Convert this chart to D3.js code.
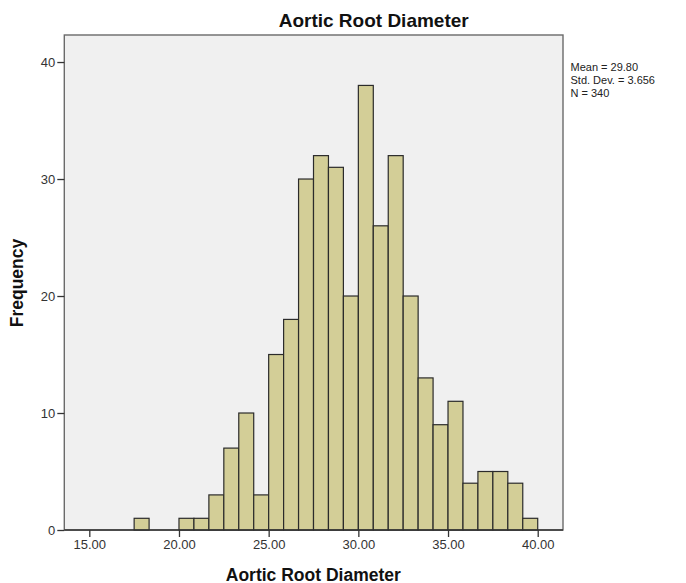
<!DOCTYPE html>
<html>
<head>
<meta charset="utf-8">
<script src="https://cdn.jsdelivr.net/npm/d3@7"></script>
<style>
  body { margin: 0; background: #fff; }
  svg text { font-family: "Liberation Sans", Arial, sans-serif; }
</style>
</head>
<body>
<div class="vis"></div>
<script>
// Width and height of the page
var w = 686;
var h = 583;

// Histogram data
var binStart = 17.5;       // lower edge of first bin
var binWidth = 5 / 6;      // SPSS bin width
var counts = [1, 0, 0, 1, 1, 3, 7, 10, 3, 15, 18, 30, 32, 31, 20, 38, 26, 32, 20, 13, 9, 11, 4, 5, 5, 4, 1];
var xTicks = [15, 20, 25, 30, 35, 40];
var yTicks = [0, 10, 20, 30, 40];
var statLines = ["Mean = 29.80", "Std. Dev. = 3.656", "N = 340"];
var titleText = "Aortic Root Diameter";

// plot frame
var frame = {left: 64.3, right: 563, top: 35, bottom: 530};

var bins = counts.map(function(c, i) {
    return {x0: binStart + i * binWidth, x1: binStart + (i + 1) * binWidth, n: c};
});

var xScale = d3.scaleLinear()
    .domain([13.606, 41.41])
    .range([frame.left, frame.right]);

var yScale = d3.scaleLinear()
    .domain([0, 42.31])
    .range([frame.bottom, frame.top]);

var svg = d3.select(".vis")
    .append("svg")
    .attr("width", w)
    .attr("height", h);

// plot background
svg.append("rect")
    .attr("x", frame.left)
    .attr("y", frame.top)
    .attr("width", frame.right - frame.left)
    .attr("height", frame.bottom - frame.top)
    .attr("fill", "#f0f0f0")
    .attr("stroke", "#6a6a6a")
    .attr("stroke-width", 1.4);

// bars
svg.append("g")
    .selectAll("rect")
    .data(bins.filter(function(d) { return d.n > 0; }))
    .enter()
    .append("rect")
    .attr("x", function(d) { return xScale(d.x0); })
    .attr("y", function(d) { return yScale(d.n); })
    .attr("width", function(d) { return xScale(d.x1) - xScale(d.x0); })
    .attr("height", function(d) { return yScale(0) - yScale(d.n); })
    .attr("fill", "#d3ce97")
    .attr("stroke", "#2b2b2b")
    .attr("stroke-width", 1.2);

// axes
var yAxis = d3.axisLeft(yScale).tickValues(yTicks).tickSize(7).tickPadding(2);
var xAxis = d3.axisBottom(xScale).tickValues(xTicks).tickSize(7).tickPadding(3)
    .tickFormat(d3.format(".2f"));

var gy = svg.append("g")
    .attr("transform", "translate(" + frame.left + ",0)")
    .call(yAxis);
gy.select(".domain").remove();

var gx = svg.append("g")
    .attr("transform", "translate(0," + frame.bottom + ")")
    .call(xAxis);
gx.select(".domain").remove();

[gx, gy].forEach(function(g) {
    g.selectAll(".tick line").attr("stroke", "#333").attr("stroke-width", 1.3);
    g.selectAll(".tick text")
        .attr("fill", "#333")
        .style("font-size", "13px")
        .style("font-family", "'Liberation Sans', Arial, sans-serif");
});

// bottom axis line
svg.append("line")
    .attr("x1", frame.left).attr("x2", frame.right)
    .attr("y1", frame.bottom).attr("y2", frame.bottom)
    .attr("stroke", "#333")
    .attr("stroke-width", 1.4);

// titles
svg.append("text")
    .attr("x", 373.7).attr("y", 27.3)
    .attr("text-anchor", "middle")
    .style("font-size", "19px").style("font-weight", "bold")
    .attr("fill", "#111")
    .text(titleText);

svg.append("text")
    .attr("x", 313.3).attr("y", 580.5)
    .attr("text-anchor", "middle")
    .style("font-size", "17.5px").style("font-weight", "bold")
    .attr("fill", "#111")
    .text(titleText);

svg.append("text")
    .attr("transform", "translate(22.5,283) rotate(-90)")
    .attr("text-anchor", "middle")
    .style("font-size", "17.5px").style("font-weight", "bold")
    .attr("fill", "#111")
    .text("Frequency");

// stats box
svg.append("g")
    .selectAll("text")
    .data(statLines)
    .enter()
    .append("text")
    .attr("x", 570.5)
    .attr("y", function(d, i) { return 71 + i * 12.8; })
    .style("font-size", "11px")
    .attr("fill", "#222")
    .text(function(d) { return d; });
</script>
</body>
</html>
